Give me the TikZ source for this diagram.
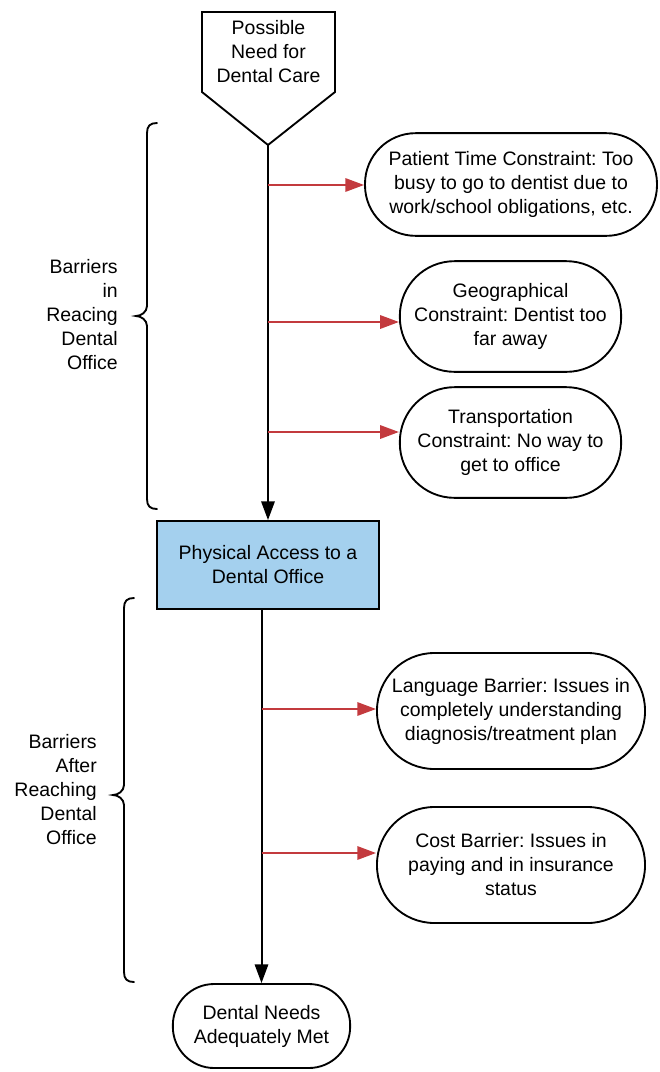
\documentclass[tikz,border=0pt]{standalone}
\usepackage{fontspec}
\setmainfont{Liberation Sans}
\usetikzlibrary{arrows.meta}
\definecolor{accessblue}{RGB}{164,208,238}
\definecolor{barrierred}{RGB}{195,58,62}
\frenchspacing
\newcommand{\drawbrace}[4]{%
\draw[bracepath] (#1+10,#2) .. controls (#1+3,#2) and (#1,#2+3) .. (#1,#2+10)
  -- (#1,#3-10) .. controls (#1,#3-4) and (#1-6,#3) .. (#1-11,#3)
  .. controls (#1-6,#3) and (#1,#3+4) .. (#1,#3+10)
  -- (#1,#4-10) .. controls (#1,#4-3) and (#1+3,#4) .. (#1+10,#4);
}

\begin{document}
\begin{tikzpicture}[x=0.75pt,y=-0.75pt,
  every node/.style={font=\fontsize{14.6}{18}\selectfont,align=center,inner sep=0pt},
  outline/.style={draw,line width=1.4pt},
  stadium/.style={outline,rectangle,fill=white},
  bracepath/.style={line width=1.4pt,line cap=round},
  mainarrow/.style={line width=1.5pt,-{Triangle[length=14pt,width=10pt]}},
  redarrow/.style={line width=1.5pt,draw=barrierred,-{Triangle[length=14pt,width=10pt]}}]

\useasboundingbox (0,0) rectangle (660,1072);

% start
\draw[outline,line join=miter] (202,12) -- (335,12) -- (335,92) -- (268,145) -- (202,92) -- cycle;
\coordinate (needtip) at (268,145);
\node (need) at (268.5,51.5) {Possible\\Need for\\Dental Care};

% barriers before the office
\node[stadium,minimum width=219pt,minimum height=77pt,rounded corners=38pt] (time) at (511,184.5)
  {Patient Time Constraint: Too\\busy to go to dentist due to\\work/school obligations, etc.};
\node[stadium,minimum width=166pt,minimum height=83pt,rounded corners=41pt] (geo) at (510.5,316.5)
  {Geographical\\Constraint: Dentist too\\far away};
\node[stadium,minimum width=166pt,minimum height=83pt,rounded corners=41pt] (transport) at (510.5,442.5)
  {Transportation\\Constraint: No way to\\get to office};

\node[outline,fill=accessblue,minimum width=166.5pt,minimum height=66pt] (access) at (268,565)
  {Physical Access to a\\Dental Office};

% barriers after the office
\node[stadium,minimum width=201pt,minimum height=87pt,rounded corners=43pt] (language) at (511,711)
  {Language Barrier: Issues in\\completely understanding\\diagnosis/treatment plan};
\node[stadium,minimum width=201pt,minimum height=87pt,rounded corners=43pt] (cost) at (511,865)
  {Cost Barrier: Issues in\\paying and in insurance\\status};

\node[stadium,minimum width=133pt,minimum height=63pt,rounded corners=31pt] (met) at (261.5,1026)
  {Dental Needs\\Adequately Met};

% main flow
\draw[mainarrow] (needtip) -- (access.north);
\draw[mainarrow] (access.south -| met.north) -- (met.north);

\coordinate (b1) at (268,185);
\coordinate (b2) at (268,322);
\coordinate (b3) at (268,432);
\coordinate (b4) at (261.5,709);
\coordinate (b5) at (261.5,853);

\draw[redarrow] (b1) -- (b1 -| time.west);
\draw[redarrow] (b2) -- (b2 -| geo.west);
\draw[redarrow] (b3) -- (b3 -| transport.west);
\draw[redarrow] (b4) -- (b4 -| language.west);
\draw[redarrow] (b5) -- (b5 -| cost.west);

% braces
\drawbrace{147}{123}{316}{509}
\node[anchor=east,align=right] (before) at (118,315) {Barriers\\in\\Reacing\\Dental\\Office};

\drawbrace{124}{598}{795}{982}
\node[anchor=east,align=right] (after) at (97,790) {Barriers\\After\\Reaching\\Dental\\Office};

\end{tikzpicture}
\end{document}
